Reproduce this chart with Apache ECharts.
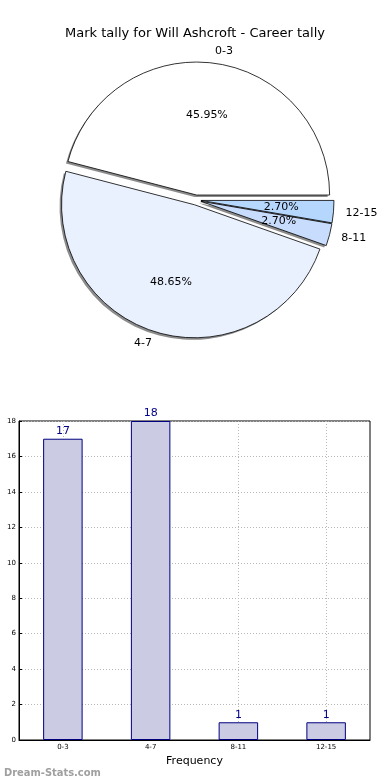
<!DOCTYPE html>
<html><head><meta charset="utf-8">
<script src="https://cdn.jsdelivr.net/npm/echarts@6/dist/echarts.min.js"></script>
<style>html,body{margin:0;padding:0;background:#fff}#c{width:390px;height:780px}</style>
</head><body><div id="c"></div>
<script>
const categories = ['0-3', '4-7', '8-11', '12-15'];
const tallies = [17, 18, 1, 1];
const yTicks = [0, 2, 4, 6, 8, 10, 12, 14, 16, 18];
const pieColors = ['#ffffff', '#eaf1fe', '#c8dcfd', '#b5d6fd'];

const font = 'DejaVu Sans';
const cx = 196, cy = 200, r = 133;

const pieData = categories.map((c, i) => ({
  name: c, value: tallies[i], selected: true,
  itemStyle: { color: pieColors[i] }
}));
const shadowData = categories.map((c, i) => ({ name: c, value: tallies[i], selected: true }));

const chart = echarts.init(document.getElementById('c'), null, { renderer: 'canvas' });
chart.setOption({
  animation: false,
  title: [
    { text: 'Mark tally for Will Ashcroft - Career tally', left: 'center', top: 22,
      textStyle: { fontFamily: font, fontSize: 13, fontWeight: 'normal', color: '#000' } },
    { text: 'Dream-Stats.com', left: -1, top: 763,
      textStyle: { fontFamily: "'DejaVu Sans Condensed', 'DejaVu Sans'", fontSize: 11, fontWeight: 'bold', color: '#a0a0a0' } }
  ],
  grid: { left: 19, right: 20, top: 421, bottom: 40, show: true, borderColor: '#000', borderWidth: 1,
    containLabel: false, outerBoundsMode: 'none' },
  xAxis: {
    type: 'category', data: categories,
    name: 'Frequency', nameLocation: 'middle', nameGap: 16,
    nameTextStyle: { fontFamily: font, fontSize: 11, color: '#000' },
    axisLine: { lineStyle: { color: '#000' } },
    axisTick: { alignWithLabel: true, inside: true, length: 3, lineStyle: { color: '#000' } },
    axisLabel: { fontFamily: font, fontSize: 7, color: '#000', margin: 4 },
    splitLine: { show: true, alignWithLabel: true, lineStyle: { color: '#b8b8b8', type: [1, 2], width: 1 } }
  },
  yAxis: {
    type: 'value', min: 0, max: 18, interval: 2,
    name: 'Distribution', nameLocation: 'middle', nameGap: 4, nameRotate: 90,
    nameTextStyle: { fontFamily: font, fontSize: 11, color: '#000' },
    axisLine: { show: true, lineStyle: { color: '#000' } },
    axisTick: { show: true, inside: true, length: 3, lineStyle: { color: '#000' } },
    axisLabel: { fontFamily: font, fontSize: 7, color: '#000', margin: 3,
      formatter: v => yTicks.includes(v) ? String(v) : '' },
    splitLine: { show: true, lineStyle: { color: '#b8b8b8', type: [1, 2], width: 1 } }
  },
  series: [
    {
      type: 'pie', center: [cx - 2, cy + 2], radius: r, startAngle: 0, clockwise: false,
      selectedMode: 'multiple', selectedOffset: 5, silent: true, z: 1,
      data: shadowData,
      itemStyle: { color: '#8c8c8c', borderWidth: 0 },
      label: { show: false }, labelLine: { show: false },
      emphasis: { disabled: true }
    },
    {
      type: 'pie', center: [cx, cy], radius: r, startAngle: 0, clockwise: false,
      selectedMode: 'multiple', selectedOffset: 5, avoidLabelOverlap: false, silent: true, z: 2,
      data: pieData,
      itemStyle: { borderColor: '#000', borderWidth: 0.8 },
      label: { show: true, position: 'outside', fontFamily: font, fontSize: 11, color: '#000',
        formatter: '{b}', distanceToLabelLine: 0 },
      labelLine: { show: false, length: 12, length2: 0 },
      emphasis: { disabled: true }
    },
    {
      type: 'pie', center: [cx, cy], radius: r * 1.24, startAngle: 0, clockwise: false,
      silent: true, z: 5, avoidLabelOverlap: false,
      data: categories.map((c, i) => ({ name: c, value: tallies[i] })),
      itemStyle: { color: 'transparent', borderWidth: 0 },
      label: { show: true, position: 'inside', fontFamily: font, fontSize: 11, color: '#000',
        formatter: p => p.percent.toFixed(2) + '%' },
      labelLine: { show: false },
      emphasis: { disabled: true }
    },
    {
      type: 'bar', data: tallies, barWidth: '45%',
      itemStyle: { color: '#cbcbe3', borderColor: '#000080', borderWidth: 1 },
      label: { show: true, position: 'top', distance: 2, fontFamily: font, fontSize: 11, color: '#00008b' },
      emphasis: { disabled: true }
    }
  ]
});
</script></body></html>
